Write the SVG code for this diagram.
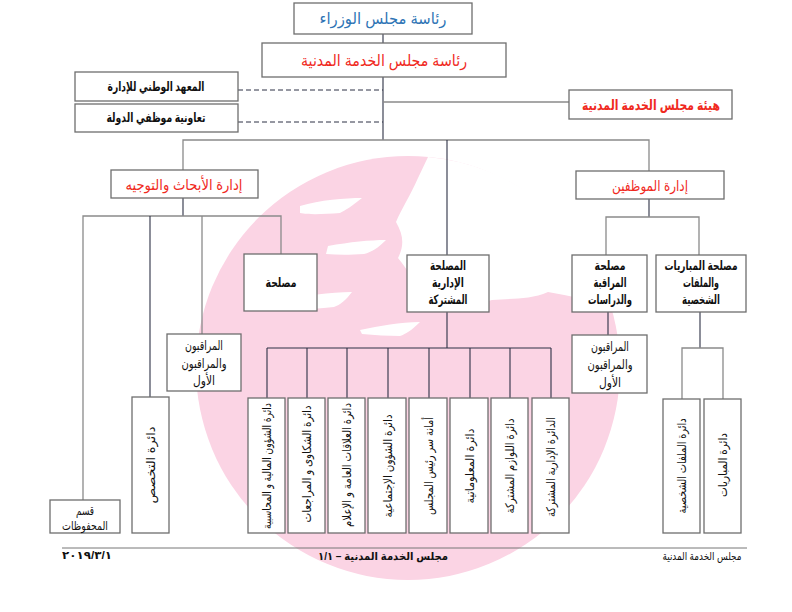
<svg xmlns="http://www.w3.org/2000/svg" width="792" height="612" viewBox="0 0 792 612">
<style>
text{font-family:"Liberation Sans","DejaVu Sans",sans-serif;direction:rtl;text-anchor:middle;}
.box{fill:#ffffff;stroke:#6e6e6e;stroke-width:1.3;}
.c{fill:none;stroke:#2c3044;stroke-width:1.1;}
.g{fill:none;stroke:#8a8a8a;stroke-width:1.3;}
.d{fill:none;stroke:#2c3044;stroke-width:1;stroke-dasharray:5,3;}
.red{fill:#f02a1e;font-size:15px;}
.b{font-weight:bold;font-size:13px;fill:#111;}
.r{font-size:13px;fill:#111;}
.v{font-size:12px;fill:#111;}
.f{font-size:11px;fill:#111;}
</style>
<rect width="792" height="612" fill="#ffffff"/>
<g id="watermark">
<circle cx="408" cy="368" r="212" fill="#fbd4e4"/>
<path d="M 428 157 A 212 212 0 0 1 612 305 C 590 300 570 296 548 292 C 530 300 512 298 492 300 C 470 306 450 310 432 300 C 418 288 408 270 398 258 C 404 246 404 236 396 222 C 402 208 410 196 418 178 Z" fill="#ffffff"/>
<path d="M 300 206 C 320 200 345 198 362 198 C 352 206 346 210 340 213 C 325 214 310 215 300 213 Z M 328 246 C 350 242 370 240 386 240 C 378 248 372 252 364 254 C 350 255 338 255 326 254 Z M 280 300 C 305 296 330 292 352 292 C 346 300 340 305 334 307 C 315 309 298 310 285 309 Z M 360 330 C 380 326 400 322 420 322 C 412 330 406 334 400 336 C 388 336 375 335 362 334 Z" fill="#ffffff"/>
</g>
<g id="connectors">
<line class="c" x1="383" y1="34" x2="383" y2="43"/>
<line class="c" x1="383" y1="77" x2="383" y2="140"/>
<line class="d" x1="238" y1="90" x2="383" y2="90"/>
<line class="d" x1="238" y1="122" x2="383" y2="122"/>
<line class="g" x1="383" y1="102" x2="569" y2="102"/>
<polyline class="g" points="183,170 183,140 649,140 649,171"/>
<line class="c" x1="447" y1="140" x2="447" y2="255"/>
<line class="c" x1="183" y1="198" x2="183" y2="216"/>
<polyline class="g" points="83,500 83,216 281,216 281,254"/>
<line class="c" x1="150" y1="216" x2="150" y2="397"/>
<line class="g" x1="202" y1="216" x2="202" y2="334"/>
<line class="c" x1="649" y1="199" x2="649" y2="217"/>
<polyline class="g" points="606,255 606,217 699,217 699,255"/>
<line class="c" x1="608" y1="312" x2="608" y2="335"/>
<line class="c" x1="700" y1="312" x2="700" y2="348"/>
<polyline class="g" points="682,399 682,348 723,348 723,399"/>
<line class="c" x1="447" y1="312" x2="447" y2="348"/>
<line class="c" x1="267" y1="348" x2="551" y2="348"/>
<line class="c" x1="267" y1="348" x2="267" y2="398"/>
<line class="c" x1="307" y1="348" x2="307" y2="398"/>
<line class="c" x1="347" y1="348" x2="347" y2="398"/>
<line class="c" x1="388" y1="348" x2="388" y2="398"/>
<line class="c" x1="429" y1="348" x2="429" y2="398"/>
<line class="c" x1="470" y1="348" x2="470" y2="398"/>
<line class="c" x1="510" y1="348" x2="510" y2="398"/>
<line class="c" x1="551" y1="348" x2="551" y2="398"/>
</g>
<g id="n-council-ministers"><rect class="box" x="294" y="3" width="178" height="31"/><text x="383" y="24" style="font-size:16px;fill:#2e74b5" textLength="127" lengthAdjust="spacingAndGlyphs">رئاسة مجلس الوزراء</text></g>
<g id="n-csc-presidency"><rect class="box" x="262" y="43" width="244" height="34"/><text x="384" y="66" style="font-size:16px;fill:#f02a1e" textLength="166" lengthAdjust="spacingAndGlyphs">رئاسة مجلس الخدمة المدنية</text></g>
<g id="n-institute"><rect class="box" x="75" y="72" width="163" height="29"/><text class="b" x="156" y="91" textLength="97" lengthAdjust="spacingAndGlyphs">المعهد الوطني للإدارة</text></g>
<g id="n-coop"><rect class="box" x="75" y="104" width="163" height="28"/><text class="b" x="156" y="122" textLength="99" lengthAdjust="spacingAndGlyphs">تعاونية موظفي الدولة</text></g>
<g id="n-board"><rect class="box" x="569" y="90" width="163" height="29"/><text x="651" y="110" style="font-size:14px;font-weight:bold;fill:#f02a1e" textLength="138" lengthAdjust="spacingAndGlyphs">هيئة مجلس الخدمة المدنية</text></g>
<g id="n-research"><rect class="box" x="111" y="170" width="147" height="28"/><text class="red" x="184" y="190" textLength="117" lengthAdjust="spacingAndGlyphs">إدارة الأبحاث والتوجيه</text></g>
<g id="n-staff"><rect class="box" x="576" y="171" width="148" height="28"/><text class="red" x="650" y="191" textLength="76" lengthAdjust="spacingAndGlyphs">إدارة الموظفين</text></g>
<g id="n-maslaha"><rect class="box" x="244" y="254" width="73" height="57"/><text class="b" x="281" y="287" textLength="31" lengthAdjust="spacingAndGlyphs">مصلحة</text></g>
<g id="n-admin-common"><rect class="box" x="407" y="255" width="82" height="57"/><text class="b" x="448" y="270" textLength="36" lengthAdjust="spacingAndGlyphs">المصلحة</text><text class="b" x="448" y="287" textLength="32" lengthAdjust="spacingAndGlyphs">الإدارية</text><text class="b" x="448" y="304" textLength="39" lengthAdjust="spacingAndGlyphs">المشتركة</text></g>
<g id="n-monitoring"><rect class="box" x="572" y="255" width="75" height="57"/><text class="b" x="610" y="270" textLength="31" lengthAdjust="spacingAndGlyphs">مصلحة</text><text class="b" x="610" y="287" textLength="33" lengthAdjust="spacingAndGlyphs">المراقبة</text><text class="b" x="610" y="304" textLength="44" lengthAdjust="spacingAndGlyphs">والدراسات</text></g>
<g id="n-competitions"><rect class="box" x="656" y="255" width="90" height="57"/><text class="b" x="701" y="270" textLength="73" lengthAdjust="spacingAndGlyphs">مصلحة المباريات</text><text class="b" x="701" y="287" textLength="36" lengthAdjust="spacingAndGlyphs">والملفات</text><text class="b" x="701" y="304" textLength="38" lengthAdjust="spacingAndGlyphs">الشخصية</text></g>
<g id="n-inspectors-left"><rect class="box" x="167" y="334" width="74" height="57"/><text class="r" x="204" y="350" textLength="38" lengthAdjust="spacingAndGlyphs">المراقبون</text><text class="r" x="204" y="368" textLength="45" lengthAdjust="spacingAndGlyphs">والمراقبون</text><text class="r" x="204" y="385" textLength="22" lengthAdjust="spacingAndGlyphs">الأول</text></g>
<g id="n-inspectors-right"><rect class="box" x="572" y="335" width="75" height="58"/><text class="r" x="610" y="351" textLength="38" lengthAdjust="spacingAndGlyphs">المراقبون</text><text class="r" x="610" y="369" textLength="45" lengthAdjust="spacingAndGlyphs">والمراقبون</text><text class="r" x="610" y="387" textLength="22" lengthAdjust="spacingAndGlyphs">الأول</text></g>
<g id="n-archives"><rect class="box" x="50" y="500" width="70" height="33"/><text class="r" x="85" y="515" style="font-size:12px" textLength="18" lengthAdjust="spacingAndGlyphs">قسم</text><text class="r" x="85" y="530" style="font-size:12px" textLength="46" lengthAdjust="spacingAndGlyphs">المحفوظات</text></g>
<g id="n-specialization"><rect class="box" x="132" y="397" width="37" height="136"/><text class="v" transform="translate(155,465) rotate(-90)" textLength="77" lengthAdjust="spacingAndGlyphs">دائرة التخصص</text></g>
<g id="n-d1"><rect class="box" x="248" y="398" width="37" height="135"/><text class="v" transform="translate(271,466) rotate(-90)" textLength="126" lengthAdjust="spacingAndGlyphs">دائرة الشؤون المالية و المحاسبية</text></g>
<g id="n-d2"><rect class="box" x="288" y="398" width="37" height="135"/><text class="v" transform="translate(311,464) rotate(-90)" textLength="117" lengthAdjust="spacingAndGlyphs">دائرة الشكاوى و المراجعات</text></g>
<g id="n-d3"><rect class="box" x="328" y="398" width="37" height="135"/><text class="v" transform="translate(351,465) rotate(-90)" textLength="124" lengthAdjust="spacingAndGlyphs">دائرة العلاقات العامة و الإعلام</text></g>
<g id="n-d4"><rect class="box" x="368" y="398" width="38" height="135"/><text class="v" transform="translate(391.5,466) rotate(-90)" textLength="103" lengthAdjust="spacingAndGlyphs">دائرة الشؤون الإجتماعية</text></g>
<g id="n-d5"><rect class="box" x="409" y="398" width="38" height="135"/><text class="v" transform="translate(432.5,466) rotate(-90)" textLength="98" lengthAdjust="spacingAndGlyphs">أمانة سر رئيس المجلس</text></g>
<g id="n-d6"><rect class="box" x="450" y="398" width="38" height="135"/><text class="v" transform="translate(473.5,466) rotate(-90)" textLength="75" lengthAdjust="spacingAndGlyphs">دائرة المعلوماتية</text></g>
<g id="n-d7"><rect class="box" x="491" y="398" width="37" height="135"/><text class="v" transform="translate(514,466) rotate(-90)" textLength="95" lengthAdjust="spacingAndGlyphs">دائرة اللوازم المشتركة</text></g>
<g id="n-d8"><rect class="box" x="532" y="398" width="37" height="135"/><text class="v" transform="translate(555,467) rotate(-90)" textLength="100" lengthAdjust="spacingAndGlyphs">الدائرة الإدارية المشتركة</text></g>
<g id="n-files"><rect class="box" x="663" y="399" width="37" height="134"/><text class="v" transform="translate(686,466) rotate(-90)" textLength="95" lengthAdjust="spacingAndGlyphs">دائرة الملفات الشخصية</text></g>
<g id="n-contests"><rect class="box" x="704" y="399" width="37" height="134"/><text class="v" transform="translate(727,465) rotate(-90)" textLength="64" lengthAdjust="spacingAndGlyphs">دائرة المباريات</text></g>
<g id="footer">
<line x1="62" y1="548" x2="747" y2="548" stroke="#777" stroke-width="1"/>
<text class="f" x="87" y="559" style="font-weight:bold" textLength="50" lengthAdjust="spacingAndGlyphs">٢٠١٩/٣/١</text>
<text class="f" x="383" y="560" style="font-weight:bold" textLength="130" lengthAdjust="spacingAndGlyphs">مجلس الخدمة المدنية – ١/١</text>
<text class="f" x="702" y="560" textLength="79" lengthAdjust="spacingAndGlyphs">مجلس الخدمة المدنية</text>
</g>
</svg>
